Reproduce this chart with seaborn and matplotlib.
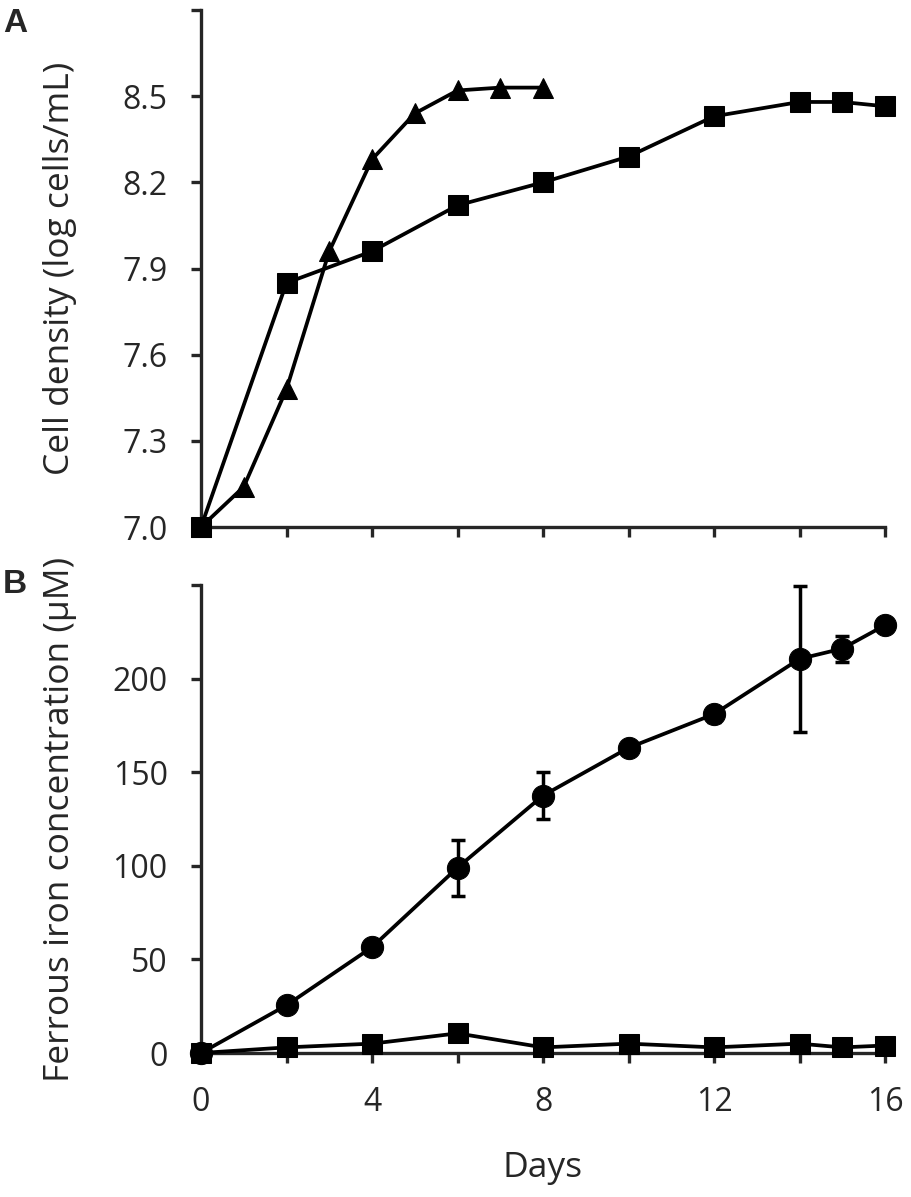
import matplotlib
matplotlib.use("Agg")
import matplotlib.pyplot as plt
import seaborn as sns
import pandas as pd

# ---- data ----
days_tri = [0, 1, 2, 3, 4, 5, 6, 7, 8]
density_tri = [7.0, 7.14, 7.48, 7.96, 8.28, 8.44, 8.52, 8.53, 8.53]

days_sq = [0, 2, 4, 6, 8, 10, 12, 14, 15, 16]
density_sq = [7.0, 7.85, 7.96, 8.12, 8.20, 8.29, 8.43, 8.48, 8.48, 8.465]

iron_circ = [0, 25.5, 56.5, 99, 137.5, 163, 181, 210.5, 216, 228.5]
iron_circ_err = [0, 1, 1, 15, 12.5, 2, 4, 39, 7, 3]
iron_sq = [0, 3, 5, 10.5, 3, 5, 3, 5, 3, 4]

a_yticks = [7.0, 7.3, 7.6, 7.9, 8.2, 8.5, 8.8]
a_yticklabels = ["7.0", "7.3", "7.6", "7.9", "8.2", "8.5", ""]
b_yticks = [0, 50, 100, 150, 200, 250]
b_yticklabels = ["0", "50", "100", "150", "200", ""]
xticks = [0, 2, 4, 6, 8, 10, 12, 14, 16]
xticklabels = ["0", "", "4", "", "8", "", "12", "", "16"]

sns.set_style("ticks")
plt.rcParams['font.family'] = ['Open Sans', 'DejaVu Sans']

fig = plt.figure(figsize=(9.12, 11.97), dpi=100)
axA = fig.add_axes([0.2204, 0.5597, 0.75, 0.4319])
axB = fig.add_axes([0.2204, 0.1203, 0.75, 0.3910])

lw = 2.7
common = dict(color="black", linewidth=lw, markeredgecolor="black",
              markerfacecolor="black", clip_on=False, zorder=3)

dfA_t = pd.DataFrame({"day": days_tri, "val": density_tri})
dfA_s = pd.DataFrame({"day": days_sq, "val": density_sq})
sns.lineplot(data=dfA_t, x="day", y="val", ax=axA, marker="^", markersize=15, **common)
sns.lineplot(data=dfA_s, x="day", y="val", ax=axA, marker="s", markersize=14.5, **common)

dfB_c = pd.DataFrame({"day": days_sq, "val": iron_circ})
dfB_s = pd.DataFrame({"day": days_sq, "val": iron_sq})
axB.errorbar(days_sq, iron_circ, yerr=iron_circ_err, fmt="none", ecolor="black",
             elinewidth=2.5, capsize=5, capthick=2.5, clip_on=False, zorder=2)
sns.lineplot(data=dfB_c, x="day", y="val", ax=axB, marker="o", markersize=16, **common)
sns.lineplot(data=dfB_s, x="day", y="val", ax=axB, marker="s", markersize=14, **common)

for ax in (axA, axB):
    sns.despine(ax=ax)
    for s in ("left", "bottom"):
        ax.spines[s].set_linewidth(2.4)
    ax.set_xlim(0, 16)
    ax.set_xticks(xticks)
    ax.tick_params(axis="both", length=7, width=2.4, direction="out", labelsize=23)
    ax.tick_params(axis="y", pad=17)
    ax.tick_params(axis="x", pad=17)

axA.set_ylim(7.0, 8.8)
axA.set_yticks(a_yticks)
axA.set_yticklabels(a_yticklabels)
axA.set_xticklabels([""] * len(xticks))
axA.set_xlabel("")
axA.set_ylabel("Cell density (log cells/mL)", fontsize=25.5)

axB.set_ylim(0, 250)
axB.set_yticks(b_yticks)
axB.set_yticklabels(b_yticklabels)
axB.set_xticklabels(xticklabels)
axB.set_xlabel("Days", fontsize=25.5, labelpad=23)
axB.set_ylabel("Ferrous iron concentration (\u03bcM)", fontsize=25.5)

axA.yaxis.set_label_coords(-0.182, 0.5)
axB.yaxis.set_label_coords(-0.182, 0.5)

fig.text(0.003, 0.9733, "A", fontsize=24, fontweight="bold", family="Liberation Sans")
fig.text(0.003, 0.5046, "B", fontsize=24, fontweight="bold", family="Liberation Sans")

fig.savefig("out.png", dpi=100)
